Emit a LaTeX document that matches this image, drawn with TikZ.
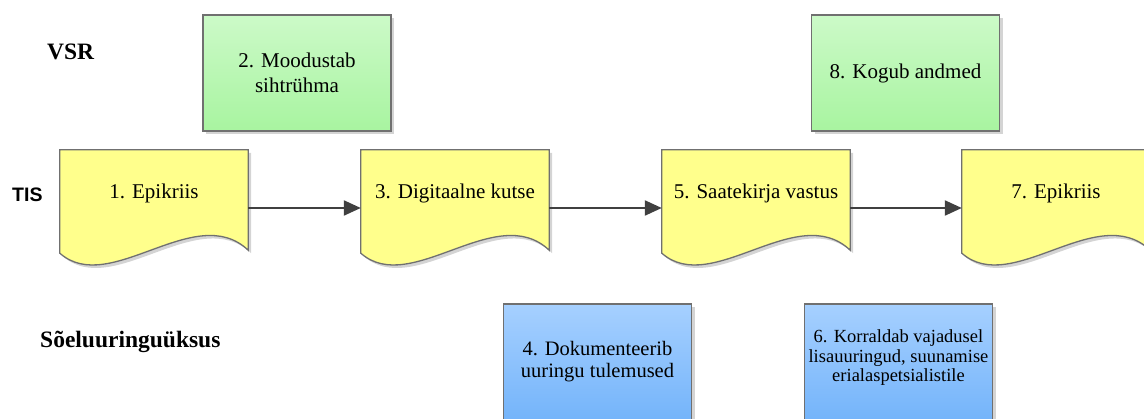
\documentclass[tikz,border=0pt]{standalone}
\usepackage{fontspec}
\setmainfont{Liberation Serif}
\newfontfamily\lanesans{Liberation Sans}
\usetikzlibrary{shadows,arrows.meta,calc}

\definecolor{edgegray}{RGB}{112,112,112}
\definecolor{greentop}{RGB}{204,250,200}
\definecolor{greenbot}{RGB}{168,244,160}
\definecolor{bluetop}{RGB}{166,208,255}
\definecolor{bluebot}{RGB}{116,180,250}
\definecolor{docfill}{RGB}{255,255,140}
\definecolor{flowgray}{RGB}{64,64,64}
\definecolor{shadowgray}{RGB}{212,212,212}

\tikzset{
  boxshadow/.style={drop shadow={shadow xshift=3pt, shadow yshift=-3pt, fill=shadowgray, opacity=1}},
  task/.style={draw=edgegray, line width=1.3pt, minimum width=188pt, minimum height=116pt,
    inner sep=2pt, align=center, font=\fontsize{21}{25}\selectfont, boxshadow},
  vsrtask/.style={task, top color=greentop, bottom color=greenbot},
  unittask/.style={task, top color=bluetop, bottom color=bluebot},
  tasktext/.style={align=center, inner sep=0pt},
  docbody/.style={minimum width=188pt, minimum height=86pt, inner sep=0pt,
    align=center, font=\fontsize{21}{25}\selectfont},
  docoutline/.style={draw=edgegray, line width=1.3pt, fill=docfill, boxshadow},
  flow/.style={draw=flowgray, line width=2.2pt, -{Triangle[length=17pt,width=15pt]}},
  lane/.style={font=\bfseries\fontsize{23.5}{26}\selectfont, anchor=west, inner sep=0pt},
}

% sheet of paper with a wavy lower edge, drawn round a document node
\newcommand\docpaper[1]{%
  \draw[docoutline] (#1.north west) -- (#1.north east)
    -- ($(#1.south east)+(0,14)$)
    .. controls ($(#1.south east)+(-53,-36)$) and ($(#1.south west)+(50,61)$)
    .. ($(#1.south west)+(0,17)$) -- cycle;}

\begin{document}
\begin{tikzpicture}[x=1pt,y=-1pt]
  \useasboundingbox (0,0) rectangle (1144,419);
  \clip (0,0) rectangle (1144,419);

  % swimlane titles
  \node[lane] (lvsr) at (47,52) {VSR};
  \node[lane, font=\lanesans\bfseries\fontsize{19.5}{22}\selectfont] (ltis) at (12,195) {TIS};
  \node[lane] (lunit) at (40,342) {Sõeluuringuüksus};

  % VSR tasks
  \node[vsrtask] (t2) at (297,73) {2. Moodustab\\sihtrühma};
  \node[vsrtask] (t8) at (905.5,73) {8. Kogub andmed};

  % TIS documents
  \node[docbody] (d1) at (154,193) {};
  \node[docbody] (d3) at (455,193) {};
  \node[docbody] (d5) at (756,193) {};
  \node[docbody] (d7) at (1056,193) {};
  \docpaper{d1}
  \docpaper{d3}
  \docpaper{d5}
  \docpaper{d7}
  \node[docbody] at (d1) {1. Epikriis};
  \node[docbody] at (d3) {3. Digitaalne kutse};
  \node[docbody] at (d5) {5. Saatekirja vastus};
  \node[docbody] at (d7) {7. Epikriis};

  % screening unit tasks
  \node[unittask, font=\fontsize{20.5}{22}\selectfont] (t4) at (597.5,362)
    {4. Dokumenteerib\\uuringu tulemused};
  \node[unittask] (t6) at (898.5,362) {};
  \node[tasktext, font=\fontsize{18.5}{19.5}\selectfont] (t6text) at ($(t6.center)+(0,-4)$)
    {6. Korraldab vajadusel\\lisauuringud, suunamise\\erialaspetsialistile};

  % document flow
  \draw[flow] ($(d1.east)+(0,15)$) -- ($(d3.west)+(0,15)$);
  \draw[flow] ($(d3.east)+(0,15)$) -- ($(d5.west)+(0,15)$);
  \draw[flow] ($(d5.east)+(0,15)$) -- ($(d7.west)+(0,15)$);
\end{tikzpicture}
\end{document}
